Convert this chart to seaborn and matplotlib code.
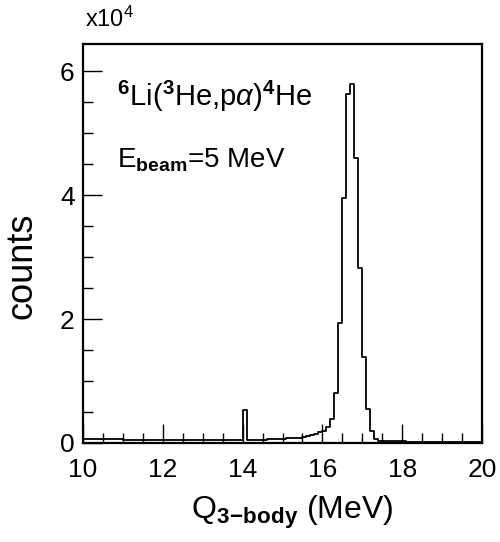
import numpy as np
import pandas as pd
import matplotlib
matplotlib.use("Agg")
import matplotlib.pyplot as plt
from matplotlib.ticker import MultipleLocator, FuncFormatter
import seaborn as sns

# Q-value spectrum, 0.1 MeV bins from 10 to 20 MeV
bin_low = [round(10.0 + 0.1 * i, 1) for i in range(100)]
counts = [
    # 10.0 - 11.0
    700, 680, 660, 650, 640, 620, 610, 600, 580, 570,
    # 11.0 - 12.0
    560, 550, 540, 540, 530, 520, 510, 500, 490, 480,
    # 12.0 - 13.0
    470, 460, 450, 440, 430, 420, 420, 410, 400, 400,
    # 13.0 - 14.0
    400, 400, 400, 410, 410, 420, 420, 430, 440, 450,
    # 14.0 - 15.0
    5400, 420, 450, 480, 510, 540, 570, 600, 630, 660,
    # 15.0 - 16.0
    700, 740, 780, 830, 880, 1000, 1100, 1250, 1450, 1800,
    # 16.0 - 17.0
    2000, 2600, 3900, 8100, 19400, 39600, 56300, 57900, 46000, 28300,
    # 17.0 - 18.0
    13900, 5500, 1900, 650, 350, 320, 300, 280, 260, 250,
    # 18.0 - 19.0
    240, 230, 220, 210, 200, 190, 180, 170, 160, 150,
    # 19.0 - 20.0
    150, 140, 140, 130, 130, 120, 120, 110, 110, 100,
]
df = pd.DataFrame({"Q": [b + 0.05 for b in bin_low], "counts": counts})

sns.set_theme(style="white")
plt.rcParams["font.family"] = ["Liberation Sans", "DejaVu Sans"]
plt.rcParams["mathtext.fontset"] = "custom"
plt.rcParams["mathtext.rm"] = "Liberation Sans"
plt.rcParams["mathtext.it"] = "Liberation Sans:italic"
plt.rcParams["mathtext.bf"] = "Liberation Sans:bold"
for key in ["text.color", "axes.labelcolor", "xtick.color", "ytick.color"]:
    plt.rcParams[key] = "black"

fig = plt.figure(figsize=(5.0, 5.42), dpi=100)
ax = fig.add_axes([0.166, 0.1827, 0.798, 0.7361])

sns.histplot(data=df, x="Q", weights="counts", bins=100, binrange=(10, 20),
             element="step", fill=False, color="black", linewidth=1.3, ax=ax)

ax.set_xlim(10, 20)
ax.set_ylim(0, 64400)

for side in ["left", "bottom", "right", "top"]:
    ax.spines[side].set_visible(True)
    ax.spines[side].set_color("black")
    ax.spines[side].set_linewidth(1.6)

ax.xaxis.set_major_locator(MultipleLocator(2))
ax.xaxis.set_minor_locator(MultipleLocator(0.5))
ax.yaxis.set_major_locator(MultipleLocator(20000))
ax.yaxis.set_minor_locator(MultipleLocator(5000))
ax.yaxis.set_major_formatter(FuncFormatter(lambda v, p: f"{v / 1e4:.0f}"))

ax.tick_params(which="both", direction="in", bottom=True, left=True,
               top=False, right=False, color="black", width=1.0)
ax.tick_params(which="major", length=14, labelsize=19)
ax.tick_params(which="minor", length=7)
ax.tick_params(axis="x", which="major", pad=11)
ax.tick_params(axis="y", which="major", pad=6)

ax.set_xlabel(r"Q$_{\mathbf{3\!-\!body}}$ (MeV)", fontsize=23)
ax.xaxis.set_label_coords(0.525, -0.128)
ax.set_ylabel("counts", fontsize=26)
ax.yaxis.set_label_coords(-0.108, 0.445)

ax.text(0.005, 1.03, r"x10$^{4}$", transform=ax.transAxes, fontsize=17,
        ha="left", va="bottom")

ax.text(0.085, 0.845, r"$^{\mathbf{6}}$Li($^{\mathbf{3}}$He,p$\alpha$)$^{\mathbf{4}}$He",
        transform=ax.transAxes, fontsize=21, ha="left", va="baseline")
ax.text(0.085, 0.69, r"E$_{\mathbf{beam}}$=5 MeV",
        transform=ax.transAxes, fontsize=20, ha="left", va="baseline")

fig.savefig("out.png", dpi=100, facecolor="white")
